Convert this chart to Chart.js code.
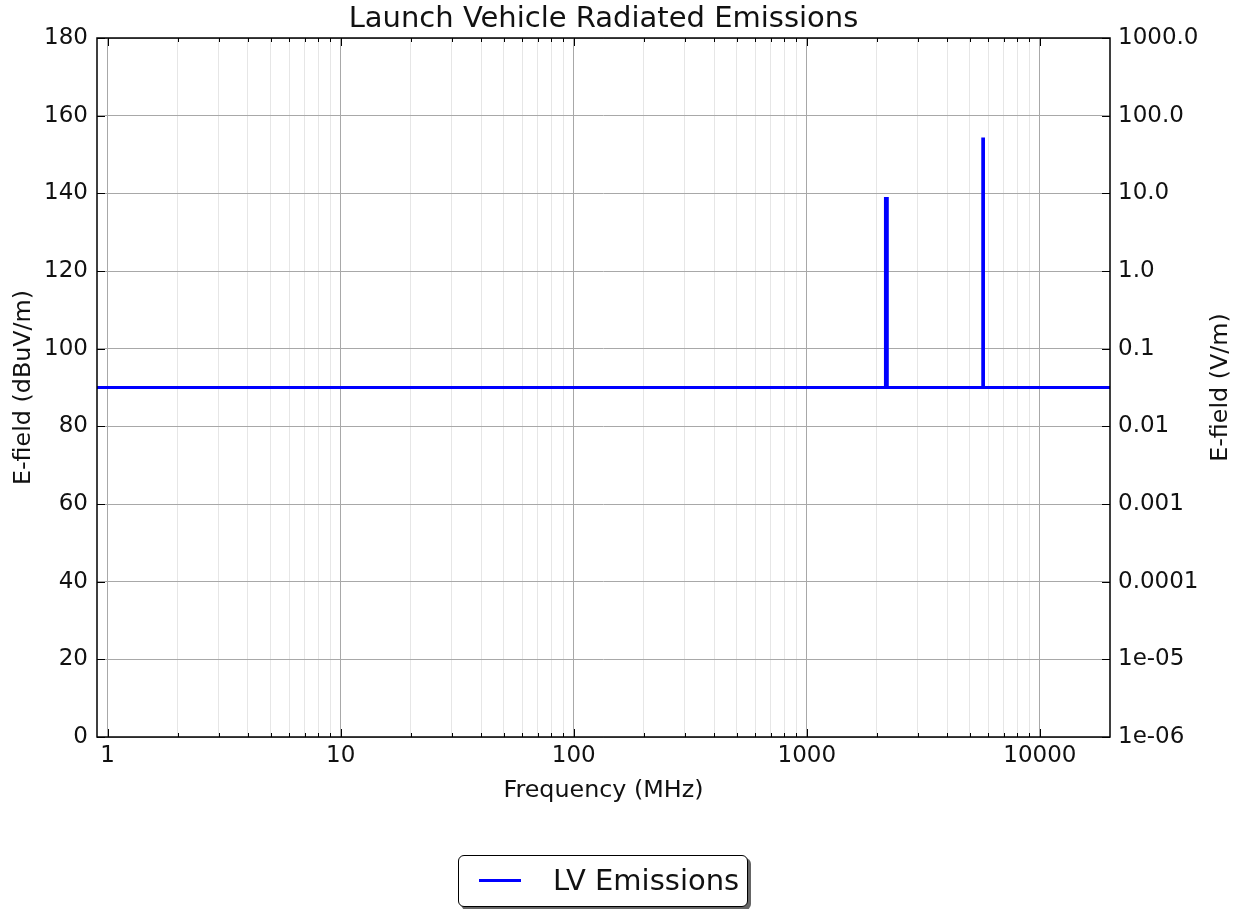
<!DOCTYPE html>
<html>
<head>
<meta charset="utf-8">
<script src="https://cdn.jsdelivr.net/npm/chart.js@4/dist/chart.umd.min.js"></script>
<style>
  html, body { margin: 0; padding: 0; background: #fff; }
  #wrap { position: absolute; left: 0; top: 0; width: 1241px; height: 909px; }
  #legend {
    position: absolute; left: 458px; top: 855px; width: 288px; height: 50px;
    border: 1.5px solid #000; border-radius: 6px; background: #fff;
    box-shadow: 3px 3px 0 #666;
    font-family: "DejaVu Sans", sans-serif; font-size: 29px; color: #111;
  }
  #legend .swatch { position: absolute; left: 20px; top: 23px; width: 42px; height: 3px; background: #0000ff; }
  #legend .lbl { position: absolute; left: 94px; top: 7px; line-height: 34px; white-space: nowrap; }
</style>
</head>
<body>
<div id="wrap"><canvas id="c" width="1241" height="909"></canvas>
<div id="legend"><div class="swatch"></div><div class="lbl">LV Emissions</div></div>
</div>
<script>
// ---- data ----
const freqMHz   = [0.9, 2175, 2175, 2215, 2215, 5690, 5690, 5730, 5730, 20000];
const eFieldDb  = [90,  90,   138.7, 138.7, 90, 90,  154,  154,  90,   90];
const xMajorTicks = [1, 10, 100, 1000, 10000];
const leftTicks = [0, 20, 40, 60, 80, 100, 120, 140, 160, 180];
const rightTickLabels = ['1e-06', '1e-05', '0.0001', '0.001', '0.01', '0.1', '1.0', '10.0', '100.0', '1000.0'];
const seriesName = 'LV Emissions';
const chartTitle = 'Launch Vehicle Radiated Emissions';
const rightAxisTitle = 'E-field (V/m)';

const points = freqMHz.map((f, i) => ({ x: f, y: eFieldDb[i] }));

// x ticks: majors plus minors 2..9 per decade
const xAllTicks = [];
xMajorTicks.forEach((m, i) => {
  xAllTicks.push(m);
  if (i < xMajorTicks.length - 1) for (let k = 2; k <= 9; k++) xAllTicks.push(m * k);
});
const isMajor = v => xMajorTicks.includes(v);

const FONT = '"DejaVu Sans", sans-serif';

const frame = {
  id: 'frame',
  afterDraw(chart) {
    const { ctx, chartArea: a, scales } = chart;
    ctx.save();
    ctx.strokeStyle = '#000';
    ctx.lineWidth = 1;
    // inward ticks
    xAllTicks.forEach(v => {
      const px = Math.round(scales.x.getPixelForValue(v)) + 0.5;
      const len = isMajor(v) ? 8 : 4;
      ctx.beginPath();
      ctx.moveTo(px, a.bottom); ctx.lineTo(px, a.bottom - len);
      ctx.moveTo(px, a.top); ctx.lineTo(px, a.top + len);
      ctx.stroke();
    });
    leftTicks.forEach(v => {
      const py = Math.round(scales.y.getPixelForValue(v)) + 0.5;
      ctx.beginPath();
      ctx.moveTo(a.left, py); ctx.lineTo(a.left + 8, py);
      ctx.moveTo(a.right, py); ctx.lineTo(a.right - 8, py);
      ctx.stroke();
    });
    ctx.lineWidth = 1.5;
    ctx.strokeRect(a.left, a.top, a.right - a.left, a.bottom - a.top);

    // title centred over the plot area
    ctx.fillStyle = '#111';
    ctx.textAlign = 'center';
    ctx.textBaseline = 'middle';
    ctx.font = '29px ' + FONT;
    ctx.fillText(chartTitle, (a.left + a.right) / 2, 19);

    // right axis title, reading bottom-to-top
    ctx.font = '23.8px ' + FONT;
    ctx.translate(1221, (a.top + a.bottom) / 2);
    ctx.rotate(-Math.PI / 2);
    ctx.fillText(rightAxisTitle, 0, 0);
    ctx.restore();
  }
};

new Chart(document.getElementById('c'), {
  type: 'line',
  data: {
    datasets: [{
      label: seriesName,
      data: points,
      borderColor: '#0000ff',
      backgroundColor: '#0000ff',
      borderWidth: 3,
      pointRadius: 0,
      tension: 0,
      borderJoinStyle: 'miter',
      borderCapStyle: 'butt'
    }]
  },
  options: {
    responsive: false,
    animation: false,
    devicePixelRatio: 1,
    layout: { padding: { top: 38, left: 0, right: 0, bottom: 0 } },
    plugins: {
      legend: { display: false },
      tooltip: { enabled: false },
      title: { display: false }
    },
    scales: {
      x: {
        type: 'logarithmic',
        min: 0.9, max: 20000,
        afterBuildTicks: s => { s.ticks = xAllTicks.map(v => ({ value: v })); },
        afterFit: s => { s.height = 172; },
        ticks: {
          autoSkip: false, maxRotation: 0, minRotation: 0, padding: 5,
          color: '#111', font: { family: FONT, size: 23 },
          callback: v => isMajor(v) ? String(v) : ''
        },
        grid: {
          drawTicks: false,
          color: c => (c.tick && isMajor(c.tick.value)) ? '#a8a8a8' : '#e6e6e6',
          lineWidth: 1
        },
        border: { display: false },
        title: {
          display: true, text: 'Frequency (MHz)', color: '#111',
          font: { family: FONT, size: 23.8 }, padding: { top: 0, bottom: 104 }
        }
      },
      y: {
        type: 'linear', position: 'left',
        min: 0, max: 180,
        afterBuildTicks: s => { s.ticks = leftTicks.map(v => ({ value: v })); },
        afterFit: s => { s.width = 97; },
        ticks: { padding: 9, color: '#111', font: { family: FONT, size: 23 } },
        grid: { drawTicks: false, color: '#a8a8a8', lineWidth: 1 },
        border: { display: false },
        title: {
          display: true, text: 'E-field (dBuV/m)', color: '#111',
          font: { family: FONT, size: 23.8 }, padding: { top: 10, bottom: 0 }
        }
      },
      y2: {
        type: 'linear', position: 'right',
        min: 0, max: 180,
        afterBuildTicks: s => { s.ticks = leftTicks.map(v => ({ value: v })); },
        afterFit: s => { s.width = 131; },
        ticks: {
          padding: 8, color: '#111', font: { family: FONT, size: 23 },
          callback: (v, i) => rightTickLabels[i]
        },
        grid: { drawTicks: false, drawOnChartArea: false },
        border: { display: false },
        title: { display: false }
      }
    }
  },
  plugins: [frame]
});
</script>
</body>
</html>
